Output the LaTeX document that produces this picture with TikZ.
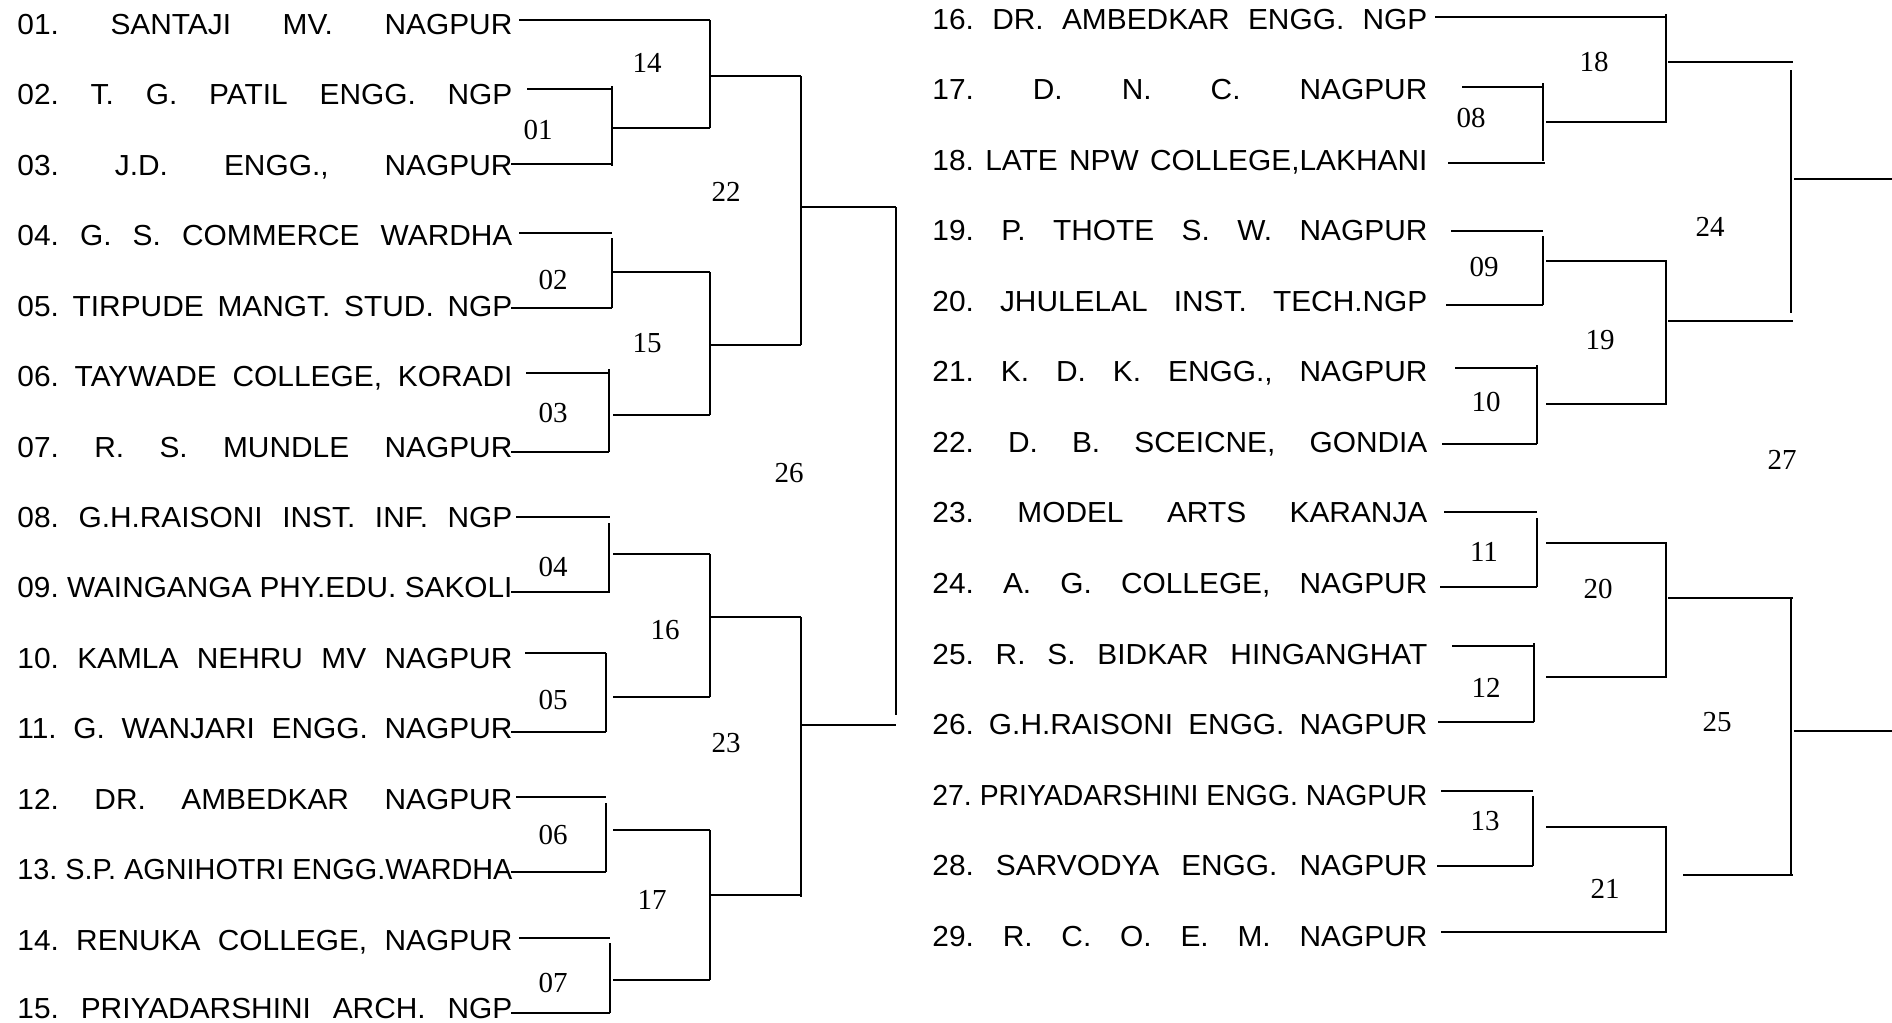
\documentclass[tikz,border=0pt]{standalone}
\usepackage{fontspec}
\usepackage{graphicx}
\setmainfont{Liberation Serif}
\newfontfamily\teamfont[FakeStretch=1.03]{Liberation Sans}
\newsavebox\tbox
\newcommand\teamtext[1]{%
  \sbox\tbox{\fontsize{14.5}{17}\teamfont\frenchspacing #1}%
  \ifdim\wd\tbox>247.5pt\relax
    \resizebox{247.5pt}{\height}{\usebox\tbox}%
  \else
    \makebox[247.5pt][s]{\fontsize{14.5}{17}\teamfont\frenchspacing #1}%
  \fi}
\begin{document}
\begin{tikzpicture}[x=0.5pt,y=-0.5pt,
  hl/.style={line width=1pt},
  vl/.style={line width=1.3pt},
  team/.style={anchor=base west,inner sep=0pt},
  lab/.style={inner sep=0pt,font=\fontsize{14.5}{16}\selectfont}]
\useasboundingbox (0,0) rectangle (1892,1023);
\newcommand\hs[3]{\draw[hl] (#1,#3) -- (#2,#3);}
\newcommand\vs[3]{\draw[vl] (#1,#2) -- (#1,#3);}
% ---------- left teams ----------
\node[team] (t01) at (17,34.5)   {\teamtext{01. SANTAJI MV. NAGPUR}};
\node[team] (t02) at (17,104.9)  {\teamtext{02. T. G. PATIL ENGG. NGP}};
\node[team] (t03) at (17,175.4)  {\teamtext{03. J.D. ENGG., NAGPUR}};
\node[team] (t04) at (17,245.8)  {\teamtext{04. G. S. COMMERCE WARDHA}};
\node[team] (t05) at (17,316.2)  {\teamtext{05. TIRPUDE MANGT. STUD. NGP}};
\node[team] (t06) at (17,386.7)  {\teamtext{06. TAYWADE COLLEGE, KORADI}};
\node[team] (t07) at (17,457.1)  {\teamtext{07. R. S. MUNDLE NAGPUR}};
\node[team] (t08) at (17,527.5)  {\teamtext{08. G.H.RAISONI INST. INF. NGP}};
\node[team] (t09) at (17,597.9)  {\teamtext{09. WAINGANGA PHY.EDU. SAKOLI}};
\node[team] (t10) at (17,668.4)  {\teamtext{10. KAMLA NEHRU MV NAGPUR}};
\node[team] (t11) at (17,738.8)  {\teamtext{11. G. WANJARI ENGG. NAGPUR}};
\node[team] (t12) at (17,809.2)  {\teamtext{12. DR. AMBEDKAR NAGPUR}};
\node[team] (t13) at (17,879.7)  {\teamtext{13. S.P. AGNIHOTRI ENGG.WARDHA}};
\node[team] (t14) at (17,950.1)  {\teamtext{14. RENUKA COLLEGE, NAGPUR}};
\node[team] (t15) at (17,1018.5) {\teamtext{15. PRIYADARSHINI ARCH. NGP}};
% ---------- right teams ----------
\node[team] (t16) at (932,29)    {\teamtext{16. DR. AMBEDKAR ENGG. NGP}};
\node[team] (t17) at (932,99.6)  {\teamtext{17. D. N. C. NAGPUR}};
\node[team] (t18) at (932,170.1) {\teamtext{18. LATE NPW COLLEGE,LAKHANI}};
\node[team] (t19) at (932,240.7) {\teamtext{19. P. THOTE S. W. NAGPUR}};
\node[team] (t20) at (932,311.2) {\teamtext{20. JHULELAL INST. TECH.NGP}};
\node[team] (t21) at (932,381.8) {\teamtext{21. K. D. K. ENGG., NAGPUR}};
\node[team] (t22) at (932,452.3) {\teamtext{22. D. B. SCEICNE, GONDIA}};
\node[team] (t23) at (932,522.9) {\teamtext{23. MODEL ARTS KARANJA}};
\node[team] (t24) at (932,593.4) {\teamtext{24. A. G. COLLEGE, NAGPUR}};
\node[team] (t25) at (932,664.0) {\teamtext{25. R. S. BIDKAR HINGANGHAT}};
\node[team] (t26) at (932,734.5) {\teamtext{26. G.H.RAISONI ENGG. NAGPUR}};
\node[team] (t27) at (932,805.1) {\teamtext{27. PRIYADARSHINI ENGG. NAGPUR}};
\node[team] (t28) at (932,875.6) {\teamtext{28. SARVODYA ENGG. NAGPUR}};
\node[team] (t29) at (932,946.2) {\teamtext{29. R. C. O. E. M. NAGPUR}};
% ---------- match labels ----------
\node[lab] (m01) at (538,130) {01};
\node[lab] (m02) at (553,280) {02};
\node[lab] (m03) at (553,413) {03};
\node[lab] (m04) at (553,567) {04};
\node[lab] (m05) at (553,700) {05};
\node[lab] (m06) at (553,835) {06};
\node[lab] (m07) at (553,983) {07};
\node[lab] (m08) at (1471,118) {08};
\node[lab] (m09) at (1484,267) {09};
\node[lab] (m10) at (1486,402) {10};
\node[lab] (m11) at (1484,552) {11};
\node[lab] (m12) at (1486,688) {12};
\node[lab] (m13) at (1485,821) {13};
\node[lab] (m14) at (647,63) {14};
\node[lab] (m15) at (647,343) {15};
\node[lab] (m16) at (665,630) {16};
\node[lab] (m17) at (652,900) {17};
\node[lab] (m18) at (1594,62) {18};
\node[lab] (m19) at (1600,340) {19};
\node[lab] (m20) at (1598,589) {20};
\node[lab] (m21) at (1605,889) {21};
\node[lab] (m22) at (726,192) {22};
\node[lab] (m23) at (726,743) {23};
\node[lab] (m24) at (1710,227) {24};
\node[lab] (m25) at (1717,722) {25};
\node[lab] (m26) at (789,473) {26};
\node[lab] (m27) at (1782,460) {27};
% ---------- left bracket lines ----------
\hs{519}{710}{20}
\hs{527}{612}{89}
\hs{511}{612}{164}
\hs{519}{612}{233}
\hs{511}{612}{308}
\hs{526}{609}{373}
\hs{511}{609}{452}
\hs{516}{610}{517}
\hs{511}{610}{592}
\hs{525}{606}{653}
\hs{511}{606}{732}
\hs{516}{606}{797}
\hs{511}{606}{872}
\hs{519}{610}{938}
\hs{511}{610}{1013}
\vs{612}{86}{166}
\vs{612}{238}{308}
\vs{609}{369}{452}
\vs{609}{523}{592}
\vs{606}{653}{732}
\vs{606}{803}{872}
\vs{610}{943}{1013}
\hs{613}{710}{128}
\hs{613}{710}{272}
\hs{613}{710}{415}
\hs{613}{710}{554}
\hs{613}{710}{697}
\hs{613}{710}{830}
\hs{613}{710}{980}
\vs{710}{20}{128}
\vs{710}{272}{415}
\vs{710}{554}{697}
\vs{710}{830}{980}
\hs{711}{801}{76}
\hs{711}{801}{345}
\hs{711}{801}{617}
\hs{711}{801}{895}
\vs{801}{76}{345}
\vs{801}{617}{897}
\hs{801}{896}{207}
\hs{801}{896}{725}
\vs{896}{207}{715}
% ---------- right bracket lines ----------
\hs{1435}{1667}{17}
\hs{1462}{1543}{87}
\hs{1448}{1545}{163}
\hs{1451}{1543}{231}
\hs{1446}{1543}{305}
\hs{1455}{1537}{368}
\hs{1442}{1537}{444}
\hs{1444}{1537}{512}
\hs{1440}{1537}{587}
\hs{1452}{1534}{646}
\hs{1438}{1534}{722}
\hs{1441}{1533}{791}
\hs{1437}{1533}{866}
\hs{1441}{1667}{932}
\vs{1543}{83}{161}
\vs{1543}{236}{305}
\vs{1537}{365}{444}
\vs{1537}{518}{587}
\vs{1534}{643}{722}
\vs{1533}{796}{866}
\hs{1546}{1667}{122}
\hs{1546}{1667}{261}
\hs{1546}{1667}{404}
\hs{1546}{1667}{543}
\hs{1546}{1667}{677}
\hs{1546}{1667}{827}
\vs{1666}{14}{123}
\vs{1666}{261}{404}
\vs{1666}{543}{677}
\vs{1666}{827}{932}
\hs{1668}{1793}{62}
\hs{1668}{1793}{321}
\hs{1668}{1793}{598}
\hs{1683}{1793}{875}
\vs{1791}{70}{313}
\vs{1791}{598}{875}
\hs{1794}{1892}{179}
\hs{1794}{1892}{731}
\end{tikzpicture}
\end{document}
